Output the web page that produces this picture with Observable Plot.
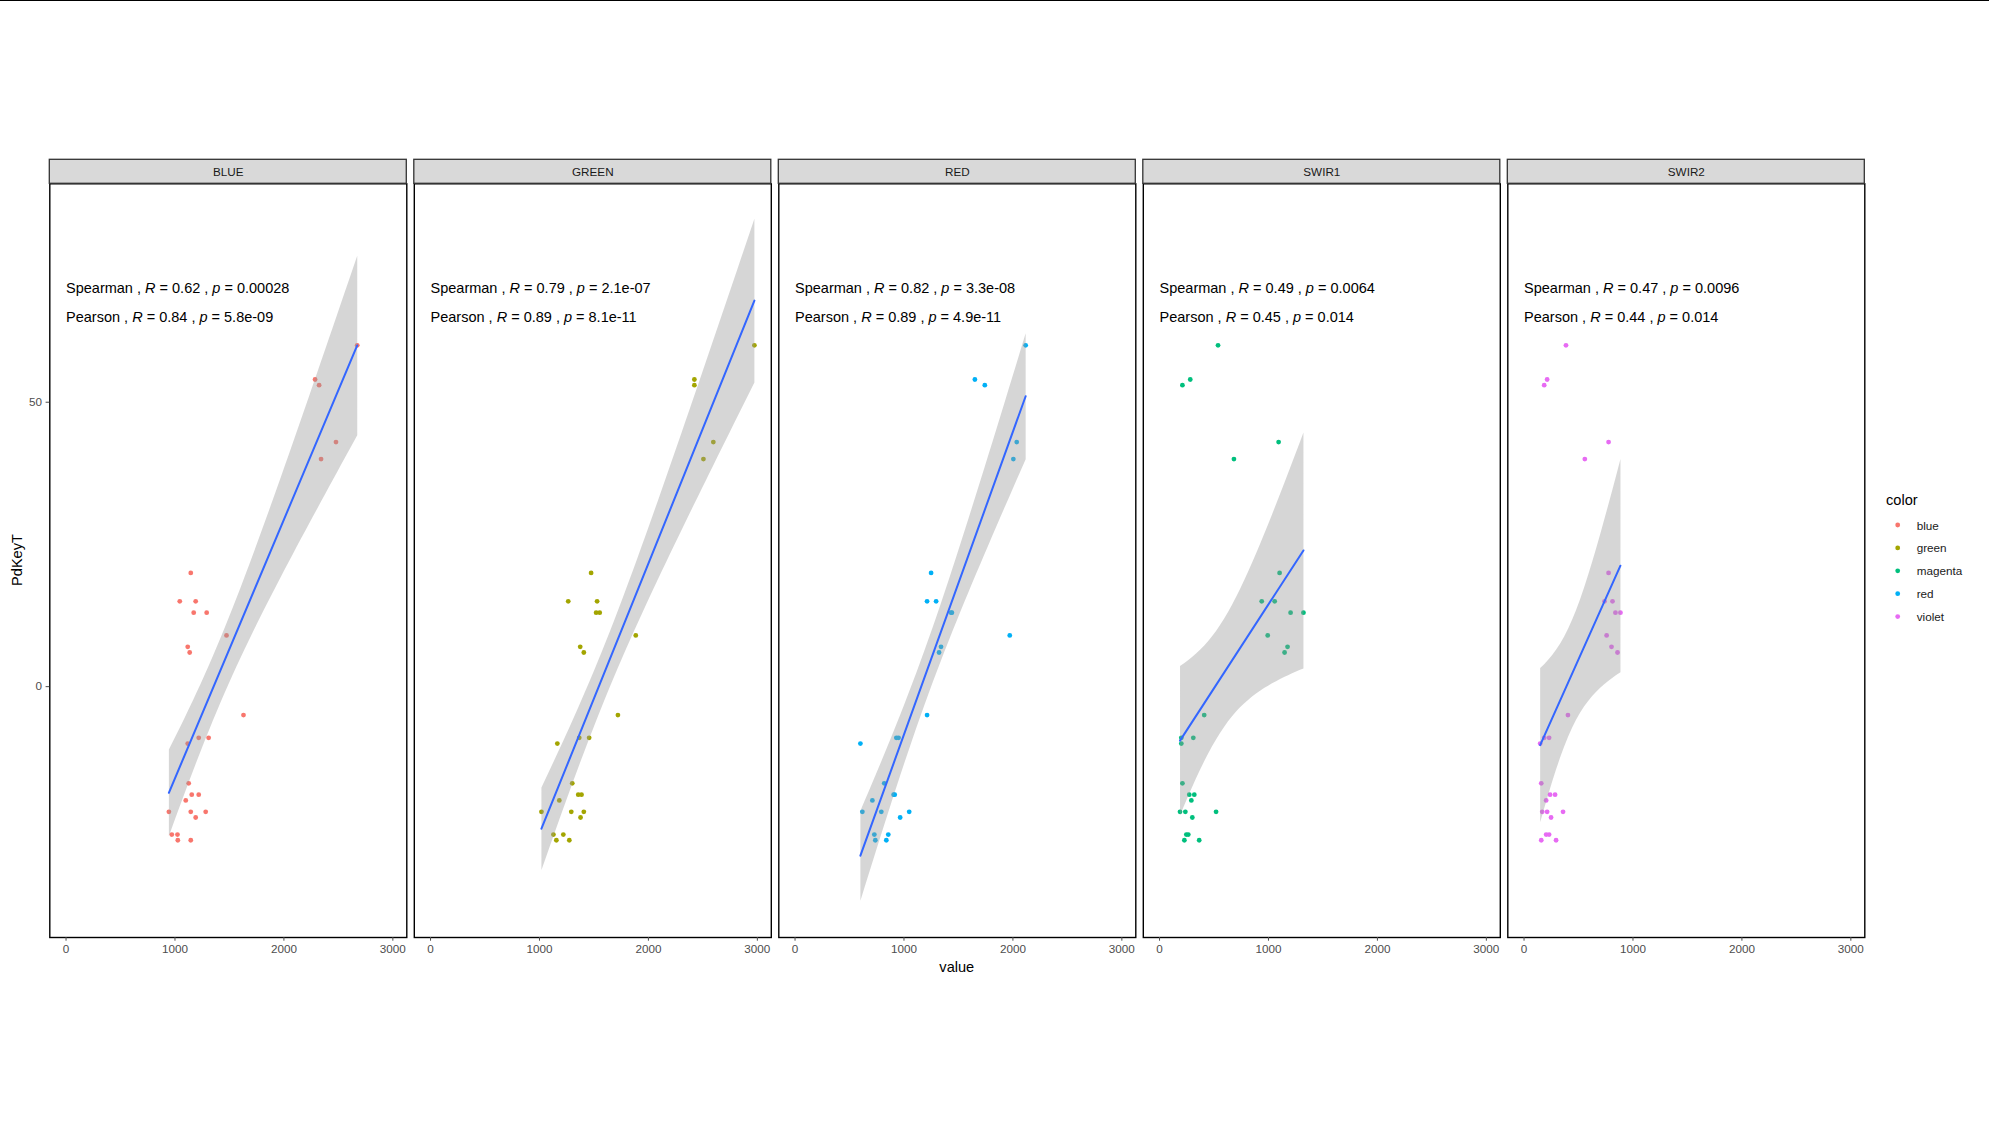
<!DOCTYPE html>
<html>
<head>
<meta charset="utf-8">
<script src="https://cdn.jsdelivr.net/npm/d3@7"></script>
<script src="https://cdn.jsdelivr.net/npm/@observablehq/plot@0.6"></script>
<style>
  html, body { margin: 0; padding: 0; background: #fff; overflow: hidden; }
  body { width: 1989px; height: 1134px; position: relative; font-family: "Liberation Sans", Arial, sans-serif; }
  #topline { position: absolute; left: 0; top: 0; width: 1989px; height: 1px; background: #000; }
  #chart { position: absolute; left: 0; top: 0; }
  .lab { position: absolute; color: #000; font-size: 14.6px; white-space: nowrap; }
  #xlab { left: 956.8px; top: 966.6px; transform: translate(-50%, -50%); }
  #ylab { left: 17px; top: 560px; transform: translate(-50%, -50%) rotate(-90deg); }
  #legend { position: absolute; left: 1880px; top: 485px; }
</style>
</head>
<body>
<div id="topline"></div>
<div id="chart"></div>
<div class="lab" id="xlab">value</div>
<div class="lab" id="ylab">PdKeyT</div>
<div id="legend"></div>
<script>
// ---- data ----
const bands = ["BLUE", "GREEN", "RED", "SWIR1", "SWIR2"];
const bandColor = ["blue", "green", "red", "magenta", "violet"];
const colorDomain = ["blue", "green", "magenta", "red", "violet"];
const palette = ["#F8766D", "#A3A500", "#00BF7D", "#00B0F6", "#E76BF3"];

const pdKeyT = [60, 54, 53, 43, 40, 20, 15, 15, 13, 13, 9, 7, 6, -5, -10, -9, -9, -17, -19, -19, -20, -22, -22, -22, -23, -26, -26, -27, -27];

const blueX  = [2673, 2286, 2323, 2478, 2341, 1145, 1044, 1190, 1172, 1291, 1473, 1117, 1135, 1629, 1117, 1218, 1309, 1126, 1154, 1218, 1099, 944, 1145, 1282, 1190, 971, 1023, 1026, 1145];
const greenX = [2973, 2422, 2422, 2596, 2505, 1474, 1264, 1529, 1520, 1553, 1884, 1374, 1407, 1720, 1164, 1365, 1456, 1301, 1356, 1386, 1182, 1018, 1292, 1407, 1377, 1128, 1219, 1155, 1274];
const redX   = [2117, 1651, 1742, 2035, 2004, 1249, 1212, 1295, 1432, 1440, 1971, 1340, 1322, 1212, 600, 930, 950, 819, 905, 915, 710, 618, 792, 1048, 965, 728, 856, 737, 838];
const swir1X = [537, 282, 210, 1093, 683, 1102, 938, 1057, 1203, 1321, 993, 1175, 1148, 410, 200, 200, 310, 210, 273, 319, 292, 188, 237, 519, 301, 246, 264, 228, 364];
const swir2X = [385, 212, 185, 776, 558, 776, 739, 812, 839, 885, 758, 803, 858, 403, 148, 185, 230, 158, 239, 285, 203, 167, 212, 358, 248, 203, 230, 158, 294];

const spearmanR = [0.62, 0.79, 0.82, 0.49, 0.47];
const spearmanP = ["0.00028", "2.1e-07", "3.3e-08", "0.0064", "0.0096"];
const pearsonR  = [0.84, 0.89, 0.89, 0.45, 0.44];
const pearsonP  = ["5.8e-09", "8.1e-11", "4.9e-11", "0.014", "0.014"];
const labelX = 0;
const labelY = [70, 65];

const xTicks = [0, 1000, 2000, 3000];
const yTicks = [0, 50];

// ---- build tables ----
const xByBand = [blueX, greenX, redX, swir1X, swir2X];
const points = [];
bands.forEach((b, i) => {
  xByBand[i].forEach((x, j) => points.push({band: b, color: bandColor[i], x, y: pdKeyT[j]}));
});
const stats = [];
bands.forEach((b, i) => {
  stats.push({band: b, x: labelX, y: labelY[0], text: `Spearman , R = ${spearmanR[i].toFixed(2)} , p = ${spearmanP[i]}`});
  stats.push({band: b, x: labelX, y: labelY[1], text: `Pearson , R = ${pearsonR[i].toFixed(2)} , p = ${pearsonP[i]}`});
});

const mT = 183.3, mB = 197, mL = 49.3, mR = 124.7;
const frameH = 1134 - mT - mB;

const chart = Plot.plot({
  width: 1989,
  height: 1134,
  marginTop: mT, marginBottom: mB, marginLeft: mL, marginRight: mR,
  style: {fontFamily: "'Liberation Sans', Arial, sans-serif", background: "transparent", overflow: "visible"},
  fx: {domain: bands, paddingInner: 0.0206, paddingOuter: 0, round: false, axis: null, label: null},
  x: {domain: [-149, 3128], label: null},
  y: {domain: [-44.1, 88.4], label: null},
  color: {type: "ordinal", domain: colorDomain, range: palette},
  marks: [
    Plot.dot(points, {fx: "band", x: "x", y: "y", fill: {value: "color", scale: "color"}, r: 2.4, stroke: null}),
    Plot.linearRegressionY(points, {fx: "band", x: "x", y: "y", stroke: "#3366FF", strokeWidth: 2, fill: "#999999", fillOpacity: 0.4, ci: 0.95}),
    Plot.text(stats, {fx: "band", x: "x", y: "y", text: "text", textAnchor: "start", fontSize: 14.5, fill: "#000"}),
    Plot.frame({stroke: "#000", strokeWidth: 1.4}),
    Plot.rect(bands, {fx: d => d, fill: "#D9D9D9", stroke: "#333333", strokeWidth: 1.3, insetTop: -24, insetBottom: frameH}),
    Plot.text(bands, {fx: d => d, text: d => d, frameAnchor: "top", lineAnchor: "middle", dy: -12, fontSize: 11.7, fill: "#1A1A1A"}),
    Plot.axisX({ticks: xTicks, tickFormat: d => String(d), tickSize: 3.7, tickPadding: 3, fontSize: 11.7, color: "#4D4D4D", label: null}),
    Plot.axisY({ticks: yTicks, tickFormat: d => String(d), tickSize: 3.7, tickPadding: 4, fontSize: 11.7, color: "#4D4D4D", label: null})
  ]
});
document.getElementById("chart").appendChild(chart);

// italic R and p in the correlation labels
chart.querySelectorAll("text").forEach(t => {
  const s = t.textContent;
  const m = s.match(/^(.*?, )R( = .*?, )p( = .*)$/);
  if (!m || !/^(Spearman|Pearson)/.test(s)) return;
  while (t.firstChild) t.removeChild(t.firstChild);
  const parts = [[m[1], false], ["R", true], [m[2], false], ["p", true], [m[3], false]];
  parts.forEach(([str, it]) => {
    const ts = document.createElementNS("http://www.w3.org/2000/svg", "tspan");
    ts.textContent = str;
    if (it) ts.setAttribute("font-style", "italic");
    t.appendChild(ts);
  });
});

// legend
const lg = d3.select("#legend").append("svg").attr("width", 109).attr("height", 150)
  .style("font-family", "'Liberation Sans', Arial, sans-serif");
lg.append("text").attr("x", 6).attr("y", 15).attr("dominant-baseline", "central")
  .attr("font-size", 14.6).attr("fill", "#000").text("color");
colorDomain.forEach((c, i) => {
  const cy = 40 + i * 22.9;
  lg.append("circle").attr("cx", 17.7).attr("cy", cy).attr("r", 2.4).attr("fill", palette[i]);
  lg.append("text").attr("x", 36.7).attr("y", cy).attr("dominant-baseline", "central")
    .attr("font-size", 11.7).attr("fill", "#1A1A1A").text(c);
});
</script>
</body>
</html>
